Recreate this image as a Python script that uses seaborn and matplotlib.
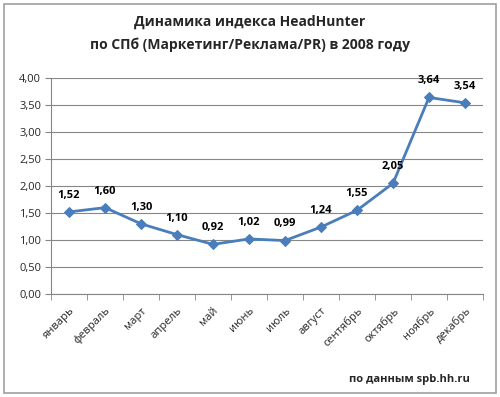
import matplotlib
matplotlib.use("Agg")
import matplotlib.pyplot as plt
import seaborn as sns
import pandas as pd
from matplotlib.patches import Rectangle

months = ["январь", "февраль", "март", "апрель", "май", "июнь",
          "июль", "август", "сентябрь", "октябрь", "ноябрь", "декабрь"]
values = [1.52, 1.60, 1.30, 1.10, 0.92, 1.02, 0.99, 1.24, 1.55, 2.05, 3.64, 3.54]
yticks = [0, 0.5, 1.0, 1.5, 2.0, 2.5, 3.0, 3.5, 4.0]

df = pd.DataFrame({"month": months, "value": values})
df["pos"] = range(len(months))

sns.set_style("white")
plt.rcParams["font.family"] = ["Open Sans", "DejaVu Sans"]

fig = plt.figure(figsize=(5, 3.97), dpi=100)
ax = fig.add_axes([0.102, 0.2594, 0.864, 0.5441])

sns.lineplot(data=df, x="pos", y="value", ax=ax, color="#4A7EBB",
             linewidth=2, marker="D", markersize=5.5, markeredgecolor="#4A7EBB")

for p, v in zip(df["pos"], df["value"]):
    ax.annotate(f"{v:.2f}".replace(".", ","), (p, v), xytext=(0, 8),
                textcoords="offset points", ha="center", va="bottom",
                fontsize=8, fontweight="bold", color="black")

ax.set_xlim(-0.5, len(months) - 0.5)
ax.set_ylim(0, 4)
ax.set_yticks(yticks)
ax.set_yticklabels([f"{t:.2f}".replace(".", ",") for t in yticks], fontsize=8)
ax.set_xticks(range(len(months)))
ax.set_xticklabels(months, rotation=45, ha="right", rotation_mode="anchor", fontsize=8)
ax.set_xticks([i - 0.5 for i in range(len(months) + 1)], minor=True)
ax.tick_params(axis="x", which="major", length=0, pad=8)
ax.tick_params(axis="x", which="minor", length=4, color="#868686", direction="out", bottom=True)
ax.tick_params(axis="y", length=4, color="#868686", direction="out", left=True, pad=3)
ax.yaxis.grid(True, color="#868686", linewidth=0.8)
ax.set_axisbelow(True)
for s in ["top", "right"]:
    ax.spines[s].set_visible(False)
ax.spines["left"].set_color("#868686")
ax.spines["bottom"].set_color("#868686")
ax.set_xlabel("")
ax.set_ylabel("")

fig.text(0.5, 0.915, "Динамика индекса HeadHunter\nпо СПб (Маркетинг/Реклама/PR) в 2008 году",
         ha="center", va="center", fontsize=10, fontweight="bold", linespacing=1.75)
fig.text(0.94, 0.043, "по данным spb.hh.ru", ha="right", va="center",
         fontsize=8, fontweight="bold")

fig.patches.append(Rectangle((0.008, 0.01), 0.984, 0.98, transform=fig.transFigure,
                             fill=False, edgecolor="#a0a0a0", linewidth=1.2))

fig.savefig("out.png", dpi=100)
